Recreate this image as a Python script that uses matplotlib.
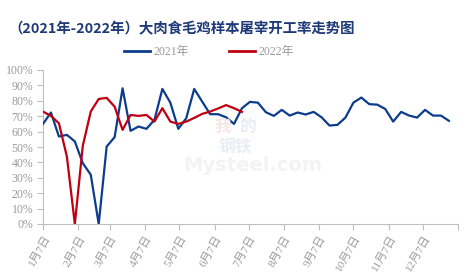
import matplotlib
matplotlib.use("Agg")
import matplotlib.pyplot as plt
from matplotlib.lines import Line2D
import numpy as np

# ---- data ----
series_2021_label = "2021年"
series_2022_label = "2022年"
values_2021 = [65, 72.4, 56.8, 57.9, 53.6, 39.5, 32, 0, 50.3, 56.4,
               88.1, 60.5, 63.3, 61.8, 67.6, 87.7, 78.8, 61.8, 68.7, 87.7,
               79.5, 71.3, 71.3, 69.3, 65, 75.2, 79.3, 78.8, 72.6, 70.2,
               74.1, 70.4, 72.4, 71.1, 72.8, 69.3, 63.9, 64.4, 69.1, 78.8,
               82.1, 77.8, 77.5, 74.7, 66.5, 72.8, 70.4, 69.1, 74.1, 70.4,
               70.4, 67]
values_2022 = [73, 70.2, 65.4, 43.8, 0, 50.8, 73, 81.2, 81.9, 76.2,
               61.1, 70.8, 70.2, 70.8, 66.5, 75.2, 66.5, 65, 66.5, 68.9,
               71.5, 73, 75, 77.2, 75.2, 72.8]
start_date = np.datetime64("2021-01-07")
tick_dates = ["2021-01-07", "2021-02-07", "2021-03-07", "2021-04-07", "2021-05-07",
              "2021-06-07", "2021-07-07", "2021-08-07", "2021-09-07", "2021-10-07",
              "2021-11-07", "2021-12-07", "2022-01-07"]
tick_labels = ["1月7日", "2月7日", "3月7日", "4月7日", "5月7日", "6月7日",
               "7月7日", "8月7日", "9月7日", "10月7日", "11月7日", "12月7日", ""]
y_ticks = [0, 10, 20, 30, 40, 50, 60, 70, 80, 90, 100]
title = "（2021年-2022年）大肉食毛鸡样本屠宰开工率走势图"

# ---- style ----
blue = "#0B3D8C"
red = "#C00010"
grey_txt = "#9A9A9A"
spine_c = "#BFBFBF"
tick_font = ["Liberation Serif", "Noto Sans CJK SC"]

def day_offset(d):
    return float((np.datetime64(d) - start_date) / np.timedelta64(1, "D"))

x2021 = [7.0 * k for k in range(len(values_2021))]
x2022 = [7.0 * k for k in range(len(values_2022))]

fig = plt.figure(figsize=(4.73, 2.80), dpi=100)
ax = fig.add_axes([43 / 473, 1 - 224 / 280, (458 - 43) / 473, (224 - 70) / 280])

ax.plot(x2021, values_2021, color=blue, lw=1.6, solid_joinstyle="round", zorder=3)
ax.plot(x2022, values_2022, color=red, lw=1.6, solid_joinstyle="round", zorder=4)

ax.set_xlim(0, day_offset(tick_dates[-1]))
ax.set_ylim(0, 100)

ax.set_xticks([day_offset(d) for d in tick_dates])
ax.set_xticklabels(tick_labels, rotation=60, ha="right", va="top",
                   rotation_mode="anchor", family=tick_font, fontsize=8.2, color=grey_txt)
ax.set_yticks(y_ticks)
ax.set_yticklabels([f"{v}%" for v in y_ticks], family=tick_font, fontsize=8.5, color=grey_txt)

ax.tick_params(axis="x", length=4, width=0.8, color=spine_c, pad=3, direction="out")
ax.tick_params(axis="y", length=4, width=0.8, color=spine_c, pad=3, direction="out")
for s in ["top", "right"]:
    ax.spines[s].set_visible(False)
for s in ["left", "bottom"]:
    ax.spines[s].set_color(spine_c)
    ax.spines[s].set_linewidth(0.8)

# watermark
wm_font = ["Noto Sans CJK SC"]
fig.text(0.470, 0.545, "我", fontsize=12, color="#F8E6E6", family=wm_font,
         fontweight="bold", ha="center", va="center", zorder=0)
fig.text(0.525, 0.545, "的", fontsize=12, color="#E9EDF5", family=wm_font,
         fontweight="bold", ha="center", va="center", zorder=0)
fig.text(0.498, 0.475, "钢铁", fontsize=12, color="#E9EDF5", family=wm_font,
         fontweight="bold", ha="center", va="center", zorder=0)
fig.text(0.535, 0.41, "Mysteel.com", fontsize=14, color="#F3F3F3", family=["DejaVu Sans"],
         fontweight="bold", ha="center", va="center", zorder=0)

# title
fig.text(8 / 473, 1 - 29 / 280, title, fontsize=10.4, fontweight="bold", color="#1F3A78",
         family=["Noto Sans CJK SC", "DejaVu Sans"], ha="left", va="center")

# legend
handles = [Line2D([], [], color=blue, lw=2), Line2D([], [], color=red, lw=2)]
leg = fig.legend(handles, [series_2021_label, series_2022_label], loc="center",
                 bbox_to_anchor=(209 / 473, 1 - 52 / 280), ncol=2, frameon=False,
                 handlelength=2.2, handletextpad=0.3, columnspacing=3.4,
                 prop={"family": tick_font, "size": 8.5})
for t in leg.get_texts():
    t.set_color(grey_txt)

fig.savefig("out.png", dpi=100)
